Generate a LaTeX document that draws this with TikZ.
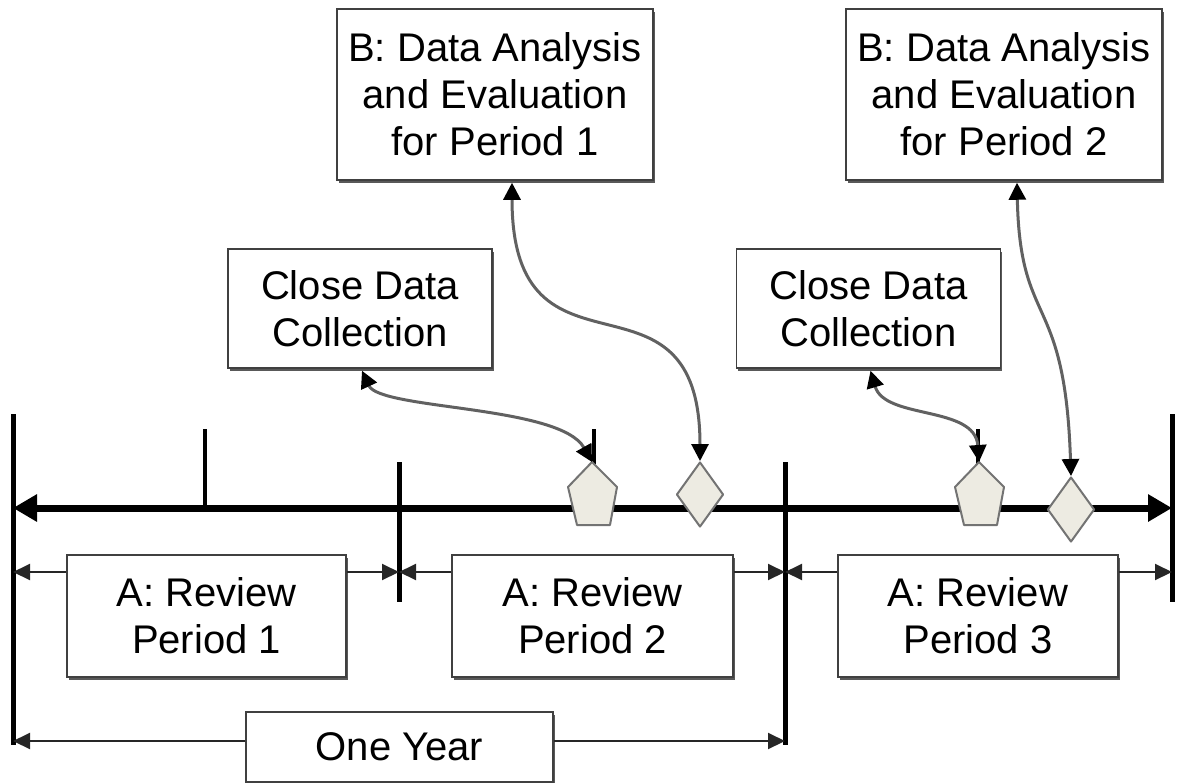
\documentclass[tikz,border=0pt]{standalone}
\usepackage{fontspec}
\setmainfont{Liberation Sans}
\usetikzlibrary{arrows.meta,shapes.geometric,shadows,calc}
\definecolor{markfill}{HTML}{EDEBE2}
\tikzset{
  box/.style={draw=black!75, line width=1.5pt, fill=white, align=center, inner sep=0pt,
    font=\fontsize{40}{47}\selectfont, text=black,
    drop shadow={shadow xshift=1.5pt, shadow yshift=-2.5pt, opacity=1, fill=black!65}},
  vline/.style={line width=5pt, black},
  tick/.style={line width=4pt, black},
  mainline/.style={line width=7pt, black, {Triangle[length=24pt,width=26pt]}-{Triangle[length=24pt,width=26pt]}},
  spanarrow/.style={line width=2pt, black!85, -{Triangle[length=17pt,width=16pt]}},
  link/.style={line width=3pt, black!62, {Triangle[length=17pt,width=17pt,color=black]}-{Triangle[length=17pt,width=17pt,color=black]}},
  marker/.style={draw=black!55, line width=2pt, fill=markfill, line join=round},
  diam/.style={marker, shape=diamond, inner sep=0pt, minimum width=47pt, minimum height=65pt}
}
\begin{document}
\begin{tikzpicture}[x=1pt,y=-1pt]
\useasboundingbox (0,0) rectangle (1183,782);
% vertical lines and ticks
\coordinate (v0t) at (13,414);   \coordinate (v0b) at (13,745);
\coordinate (v1t) at (399,462);  \coordinate (v1b) at (399,602);
\coordinate (v2t) at (785,462);  \coordinate (v2b) at (785,745);
\coordinate (v3t) at (1172,414); \coordinate (v3b) at (1172,602);
\coordinate (t1t) at (205,429);  \coordinate (t1b) at (205,508);
\coordinate (t2t) at (594,429);  \coordinate (t2b) at (594,464);
\coordinate (t3t) at (978,429);  \coordinate (t3b) at (978,464);
\draw[vline] (v0t) -- (v0b);
\draw[vline] (v1t) -- (v1b);
\draw[vline] (v2t) -- (v2b);
\draw[vline] (v3t) -- (v3b);
\draw[tick] (t1t) -- (t1b);
\draw[tick] (t2t) -- (t2b);
\draw[tick] (t3t) -- (t3b);
% main timeline
\coordinate (ml) at (13,508);
\coordinate (mr) at (1172,508);
\draw[mainline] (ml) -- (mr);
% markers
\draw[marker] (592,462) -- (617,487) -- (610,525) -- (577,525) -- (568,487) -- cycle;
\coordinate (p1) at (592,462);
\draw[marker] (979,462) -- (1004,487) -- (997,525) -- (964,525) -- (955,487) -- cycle;
\coordinate (p2) at (979,462);
\node[diam] (d1) at (700,494.5) {};
\node[diam] (d2) at (1071,509.5) {};
% boxes
\node[box, minimum width=316pt, minimum height=171pt] (b1) at (495,94.5) {B: Data Analysis\\and Evaluation\\for Period 1};
\node[box, minimum width=316pt, minimum height=171pt] (b2) at (1004,94.5) {B: Data Analysis\\and Evaluation\\for Period 2};
\node[box, minimum width=264pt, minimum height=119pt] (c1) at (360,308.5) {Close Data\\Collection};
\node[box, minimum width=264pt, minimum height=119pt] (c2) at (868.5,308.5) {Close Data\\Collection};
\node[box, minimum width=279pt, minimum height=122pt] (r1) at (206.5,616) {A: Review\\Period 1};
\node[box, minimum width=281pt, minimum height=122pt] (r2) at (592.5,616) {A: Review\\Period 2};
\node[box, minimum width=280pt, minimum height=122pt] (r3) at (978,616) {A: Review\\Period 3};
\node[box, minimum width=307pt, minimum height=70pt] (oy) at (399.5,747) {One Year};
% span arrows
\coordinate (ry) at (0,572);
\draw[spanarrow] (r1.west |- ry) -- (v0t |- ry);
\draw[spanarrow] (r1.east |- ry) -- (v1t |- ry);
\draw[spanarrow] (r2.west |- ry) -- (v1t |- ry);
\draw[spanarrow] (r2.east |- ry) -- (v2t |- ry);
\draw[spanarrow] (r3.west |- ry) -- (v2t |- ry);
\draw[spanarrow] (r3.east |- ry) -- (v3t |- ry);
\coordinate (oyy) at (0,741);
\draw[spanarrow] (oy.west |- oyy) -- (v0t |- oyy);
\draw[spanarrow] (oy.east |- oyy) -- (v2t |- oyy);
% curved links
\draw[link] ($(c1.south)+(2,2)$) .. controls (380,410) and (560,405) .. (p1);
\draw[link] ($(b1.south)+(17,2)$) .. controls (512,400) and (700,250) .. (d1.north);
\draw[link] ($(c2.south)+(2,2)$) .. controls (885,420) and (975,405) .. (p2);
\draw[link] ($(b2.south)+(13,2)$) .. controls (1020,330) and (1065,290) .. (d2.north);
\end{tikzpicture}
\end{document}
